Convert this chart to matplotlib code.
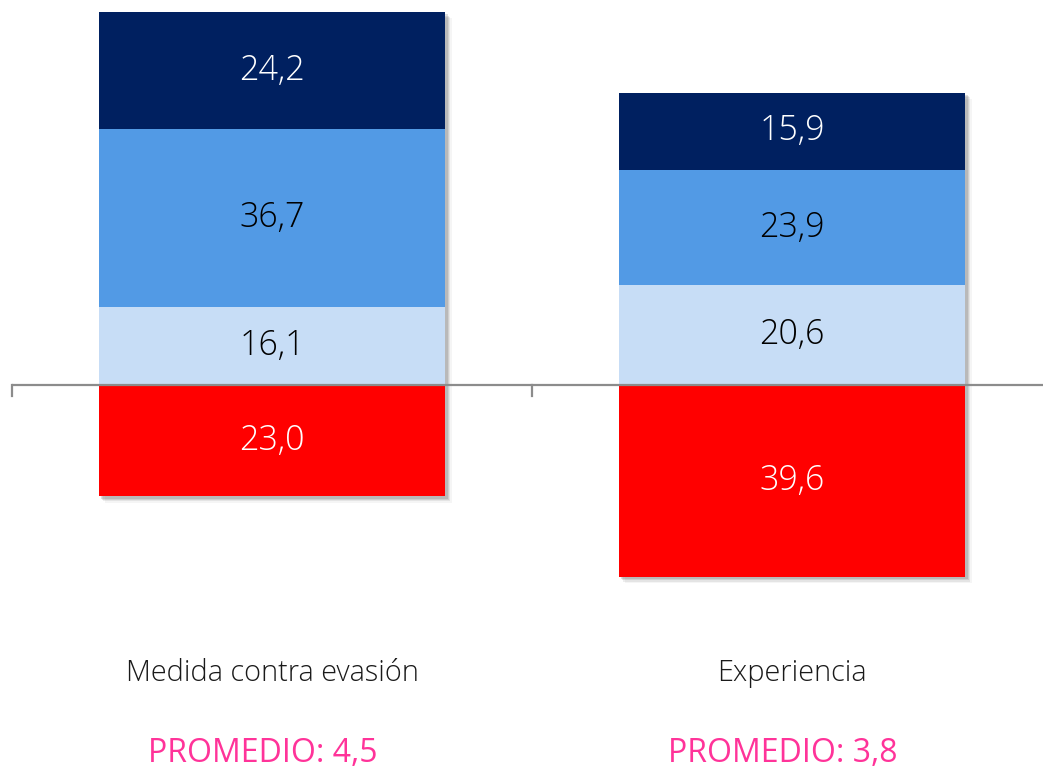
import matplotlib.pyplot as plt
import matplotlib.patheffects as pe
import numpy as np

plt.rcParams['font.family'] = ['Open Sans', 'DejaVu Sans']

# Datos
categorias = ['Medida contra evasión', 'Experiencia']
promedios = ['PROMEDIO: 4,5', 'PROMEDIO: 3,8']
claro = [16.1, 20.6]      # primer tramo positivo
medio = [36.7, 23.9]
oscuro = [24.2, 15.9]
negativo = [23.0, 39.6]   # tramo bajo el eje

col_claro = '#C7DDF6'
col_medio = '#529AE5'
col_oscuro = '#002060'
col_rojo = '#FF0000'

fig = plt.figure(figsize=(10.43, 7.75), dpi=100)
ax = fig.add_axes([12 / 1043, 0, 1040 / 1043, 1])

x = np.arange(len(categorias))
ancho = 0.667

claro_a = np.array(claro)
medio_a = np.array(medio)
oscuro_a = np.array(oscuro)
neg_a = -np.array(negativo)

# sombra suave de la barra completa (varias capas para difuminar)
sombra = [pe.SimplePatchShadow(offset=(d, -d), alpha=a, shadow_rgbFace='#555555')
          for d, a in [(4.5, 0.06), (3.5, 0.10), (2.5, 0.14), (1.5, 0.18)]]
fondo = ax.bar(x, claro_a + medio_a + oscuro_a - neg_a, ancho, bottom=neg_a,
               color='white', linewidth=0, zorder=1)
for b in fondo:
    b.set_path_effects(sombra + [pe.Normal()])

tramos = [
    (claro_a, 0, col_claro, 'black', claro),
    (medio_a, claro_a, col_medio, 'black', medio),
    (oscuro_a, claro_a + medio_a, col_oscuro, 'white', oscuro),
    (neg_a, 0, col_rojo, 'white', negativo),
]

for alto, base, color, ctexto, valores in tramos:
    ax.bar(x, alto, ancho, bottom=base, color=color, linewidth=0, zorder=2)
    centros = np.zeros(len(x)) + base + alto / 2
    for xi, yc, v in zip(x, centros, valores):
        ax.text(xi, yc, f'{v:.1f}'.replace('.', ','), ha='center', va='center',
                fontsize=24.5, color=ctexto, fontweight='light', zorder=3)

# Eje horizontal
ax.axhline(0, color='#8C8C8C', linewidth=1.6, zorder=4)
ax.set_xlim(-0.5, 1.5)
ax.set_ylim(-80.5, 79.5)
for s in ax.spines.values():
    s.set_visible(False)
ax.set_xticks([])
ax.set_yticks([])
for xt in [-0.5, 0.5, 1.5]:
    ax.plot([xt, xt], [0, -2.2], color='#8C8C8C', linewidth=1.6, zorder=4, clip_on=False)

# Etiquetas de categoría y promedios
for xi, cat, prom in zip(x, categorias, promedios):
    ax.text(xi, -59.4, cat, ha='center', va='center', fontsize=20.8,
            color='#1a1a1a', fontweight='light')
    ax.text(xi - 0.017, -76.0, prom, ha='center', va='center', fontsize=23, color='#FF3399')

fig.savefig('out.png', dpi=100)
